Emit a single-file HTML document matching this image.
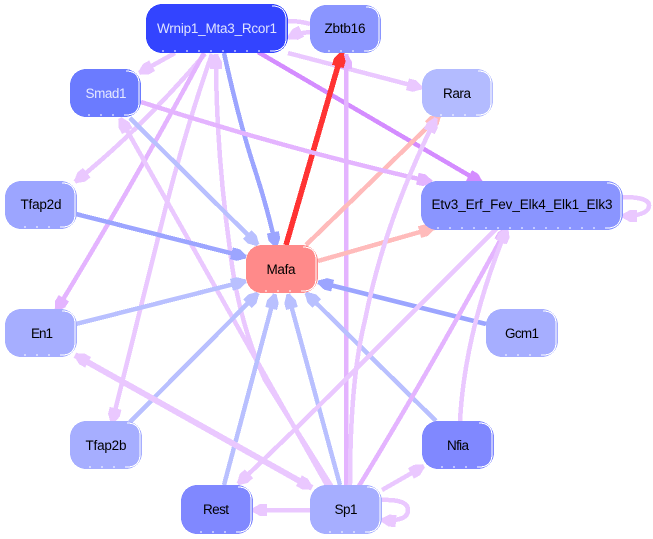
<!DOCTYPE html>
<html>
<head>
<meta charset="utf-8">
<style>
html,body{margin:0;padding:0;background:#fff;width:653px;height:539px;overflow:hidden}
svg{display:block}
path,rect{shape-rendering:crispEdges}
.e{fill:none;stroke-width:4.5}
.a{stroke:#eac8ff}.p{stroke:#d48cff}.l{stroke:#e4b4ff}.b{stroke:#b9c0ff}.u{stroke:#9ca5ff}.r{stroke:#ff3333;stroke-width:5.5}.k{stroke:#ffbbbb}
.a{marker-end:url(#ma)}.p{marker-end:url(#mp)}.l{marker-end:url(#ml)}.b{marker-end:url(#mb)}.u{marker-end:url(#mu)}.r{marker-end:url(#mr)}.k{marker-end:url(#mk)}
.w{fill:none;stroke:#fff;stroke-width:1}
.d{fill:none;stroke:#fff;stroke-width:1;stroke-dasharray:2 10}
text{font-family:"Liberation Sans",sans-serif;font-size:13.5px;text-anchor:middle;fill:#000}
</style>
</head>
<body>
<svg width="653" height="539" viewBox="0 0 653 539" xmlns="http://www.w3.org/2000/svg">
<defs>
<marker id="ma" markerUnits="userSpaceOnUse" markerWidth="16" markerHeight="14" refX="15" refY="6.500" orient="auto" overflow="visible"><path d="M0 .5 L7 .5 L15 5 L15 8 L7 12.500 L0 12.500 Z" fill="#eac8ff"/></marker>
<marker id="mp" markerUnits="userSpaceOnUse" markerWidth="16" markerHeight="14" refX="15" refY="6.500" orient="auto" overflow="visible"><path d="M0 .5 L7 .5 L15 5 L15 8 L7 12.500 L0 12.500 Z" fill="#d48cff"/></marker>
<marker id="ml" markerUnits="userSpaceOnUse" markerWidth="16" markerHeight="14" refX="15" refY="6.500" orient="auto" overflow="visible"><path d="M0 .5 L7 .5 L15 5 L15 8 L7 12.500 L0 12.500 Z" fill="#e4b4ff"/></marker>
<marker id="mb" markerUnits="userSpaceOnUse" markerWidth="16" markerHeight="14" refX="15" refY="6.500" orient="auto" overflow="visible"><path d="M0 .5 L7 .5 L15 5 L15 8 L7 12.500 L0 12.500 Z" fill="#b9c0ff"/></marker>
<marker id="mu" markerUnits="userSpaceOnUse" markerWidth="16" markerHeight="14" refX="15" refY="6.500" orient="auto" overflow="visible"><path d="M0 .5 L7 .5 L15 5 L15 8 L7 12.500 L0 12.500 Z" fill="#9ca5ff"/></marker>
<marker id="mr" markerUnits="userSpaceOnUse" markerWidth="16" markerHeight="14" refX="15" refY="6.500" orient="auto" overflow="visible"><path d="M0 .5 L7 .5 L15 5 L15 8 L7 12.500 L0 12.500 Z" fill="#ff3333"/></marker>
<marker id="mk" markerUnits="userSpaceOnUse" markerWidth="16" markerHeight="14" refX="15" refY="6.500" orient="auto" overflow="visible"><path d="M0 .5 L7 .5 L15 5 L15 8 L7 12.500 L0 12.500 Z" fill="#ffbbbb"/></marker>
</defs>

<!-- edges -->
<path class="e a" style="marker-end:none" d="M288 21 Q300 21 310 24"/>
<path class="e a" d="M310 32 Q298 33 288 38"/>
<path class="e a" d="M288 53 Q360 72 422 88"/>
<path class="e p" d="M258 52 L482 183"/>
<path class="e u" d="M224 53 Q240 125 255 170 Q268 210 276 247"/>
<path class="e a" d="M175 53 L139 73"/>
<path class="e a" d="M205 54 Q140 130 75 182"/>
<path class="e l" d="M204 53 Q130 190 56 311"/>
<path class="e a" d="M212 54 Q185 130 160 230 Q135 330 112 423"/>
<path class="e a" d="M332 487 Q290 420 265 380 Q238 320 230 250 Q216 150 216 54"/>
<path class="e a" d="M328 487 Q290 420 262 370 Q200 260 120 118"/>
<path class="e l" d="M346 485 L346 54"/>
<path class="e r" d="M286 245 L342 52"/>
<path class="e k" d="M306 245 L440 115"/>
<path class="e k" d="M318 261 L434 228"/>
<path class="e l" d="M141 102 Q290 150 432 182"/>
<path class="e b" d="M130 118 L258 245"/>
<path class="e u" d="M76 214 L246 257"/>
<path class="e b" d="M76 324 L246 281"/>
<path class="e b" d="M130 422 L258 293"/>
<path class="e b" d="M224 485 L275 294"/>
<path class="e b" d="M340 485 L288 294"/>
<path class="e b" d="M436 421 L306 293"/>
<path class="e u" d="M486 324 L318 282"/>
<path class="e a" d="M350 485 Q350 380 365 320 Q385 220 436 118"/>
<path class="e l" d="M359 486 Q430 370 507 228"/>
<path class="e a" d="M460 421 Q465 330 507 228"/>
<path class="e a" d="M497 228 Q415 310 340 385 Q290 435 238 484"/>
<path class="e a" d="M310 510 L252 510"/>
<path class="e a" d="M382 490 L424 466"/>
<path class="e a" d="M381 500 Q408 499 408 510 Q408 522 381 520"/>
<path class="e a" d="M622 197 Q650 197 649 206 Q648 216 622 216"/>
<path d="M312 488 L75 355" fill="none" stroke="#eac8ff" stroke-width="6" marker-end="url(#ma)"/>
<path d="M75 355 L312 488" fill="none" stroke="#eac8ff" stroke-width="6" marker-end="url(#ma)"/>

<!-- nodes -->
<g>
<rect x="146" y="4" width="142" height="49" rx="16" fill="#3344ff"/>
<path class="w" d="M272 6 Q286 6 286 20 L286 38 Q286 51 272 51"/><path class="d" d="M272 51 L160 51"/>
<text x="217" y="33" textLength="120" style="fill:#dfe3ff">Wrnip1_Mta3_Rcor1</text>

<rect x="310" y="5" width="71" height="48" rx="16" fill="#8a95ff"/>
<path class="w" d="M366 7 Q379 7 379 20 L379 38 Q379 51 366 51"/><path class="d" d="M366 51 L322 51"/>
<text x="345" y="33" textLength="41">Zbtb16</text>

<rect x="422" y="69" width="71" height="48" rx="16" fill="#b3bbff"/>
<path class="w" d="M478 71 Q491 71 491 84 L491 102 Q491 115 478 115"/><path class="d" d="M478 115 L434 115"/>
<text x="457" y="98" textLength="28">Rara</text>

<rect x="70" y="69" width="71" height="48" rx="16" fill="#6b7bff"/>
<path class="w" d="M126 71 Q139 71 139 84 L139 102 Q139 115 126 115"/><path class="d" d="M126 115 L82 115"/>
<text x="106" y="98" textLength="41" style="fill:#e6e9ff">Smad1</text>

<rect x="421" y="181" width="202" height="49" rx="16" fill="#8a95ff"/>
<path class="w" d="M607 183 Q621 183 621 197 L621 214 Q621 228 607 228"/><path class="d" d="M607 228 L433 228"/>
<text x="522" y="209" textLength="181">Etv3_Erf_Fev_Elk4_Elk1_Elk3</text>

<rect x="5" y="181" width="72" height="48" rx="16" fill="#9ca5ff"/>
<path class="w" d="M62 183 Q75 183 75 196 L75 214 Q75 227 62 227"/><path class="d" d="M62 227 L17 227"/>
<text x="41" y="209" textLength="41">Tfap2d</text>

<rect x="246" y="245" width="72" height="48" rx="16" fill="#ff8a8a"/>
<path class="w" d="M303 247 Q316 247 316 260 L316 278 Q316 291 303 291"/><path class="d" d="M303 291 L258 291"/>
<text x="281" y="274" textLength="29">Mafa</text>

<rect x="5" y="309" width="72" height="48" rx="16" fill="#a6aeff"/>
<path class="w" d="M62 311 Q75 311 75 324 L75 342 Q75 355 62 355"/><path class="d" d="M62 355 L17 355"/>
<text x="42" y="338" textLength="22">En1</text>

<rect x="486" y="309" width="72" height="48" rx="16" fill="#a6aeff"/>
<path class="w" d="M543 311 Q556 311 556 324 L556 342 Q556 355 543 355"/><path class="d" d="M543 355 L498 355"/>
<text x="522" y="338" textLength="34">Gcm1</text>

<rect x="70" y="421" width="72" height="48" rx="16" fill="#a6aeff"/>
<path class="w" d="M127 423 Q140 423 140 436 L140 454 Q140 467 127 467"/><path class="d" d="M127 467 L82 467"/>
<text x="106" y="450" textLength="41">Tfap2b</text>

<rect x="422" y="421" width="72" height="48" rx="16" fill="#8088ff"/>
<path class="w" d="M479 423 Q492 423 492 436 L492 454 Q492 467 479 467"/><path class="d" d="M479 467 L434 467"/>
<text x="458" y="450" textLength="22">Nfia</text>

<rect x="181" y="485" width="72" height="49" rx="16" fill="#8088ff"/>
<path class="w" d="M238 487 Q251 487 251 500 L251 518 Q251 532 238 532"/><path class="d" d="M238 532 L193 532"/>
<text x="216" y="514" textLength="26">Rest</text>

<rect x="310" y="485" width="72" height="49" rx="16" fill="#a6aeff"/>
<path class="w" d="M367 487 Q380 487 380 500 L380 518 Q380 532 367 532"/><path class="d" d="M367 532 L322 532"/>
<text x="346" y="514" textLength="23">Sp1</text>
</g>
</svg>
</body>
</html>
